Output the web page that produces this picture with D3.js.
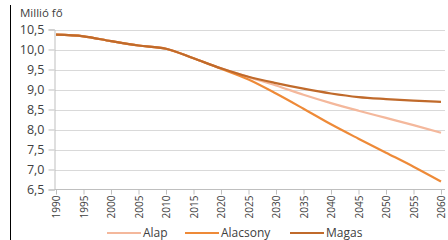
<!DOCTYPE html>
<html>
<head>
<meta charset="utf-8">
<script src="https://cdn.jsdelivr.net/npm/d3@7"></script>
<style>
  body { margin: 0; background: #fff; }
  svg text { font-family: "Open Sans", "Noto Sans", sans-serif; fill: #404040; }
</style>
</head>
<body>
<svg id="chart" width="448" height="240"></svg>
<script>
var years = [1990, 1995, 2000, 2005, 2010, 2015, 2020, 2025, 2030, 2035, 2040, 2045, 2050, 2055, 2060];
var alap      = [10.37, 10.33, 10.21, 10.10, 10.02, 9.78, 9.53, 9.31, 9.10, 8.87, 8.66, 8.47, 8.29, 8.11, 7.92];
var alacsony  = [10.37, 10.33, 10.21, 10.10, 10.02, 9.78, 9.52, 9.25, 8.90, 8.52, 8.13, 7.77, 7.42, 7.07, 6.70];
var magas     = [10.37, 10.33, 10.21, 10.10, 10.02, 9.78, 9.53, 9.32, 9.16, 9.02, 8.90, 8.81, 8.76, 8.72, 8.69];
var seriesNames = ["Alap", "Alacsony", "Magas"];
var yTicks = [6.5, 7.0, 7.5, 8.0, 8.5, 9.0, 9.5, 10.0, 10.5];

var colors = { "Alap": "#f4b89c", "Alacsony": "#ee8a38", "Magas": "#c06a2b" };
var series = [
  { name: "Alap", values: alap },
  { name: "Alacsony", values: alacsony },
  { name: "Magas", values: magas }
];

var svg = d3.select("#chart");

// keret bal oldalon
svg.append("line").attr("x1", 10.5).attr("x2", 10.5).attr("y1", 5).attr("y2", 240)
  .attr("stroke", "#000").attr("stroke-width", 1);

var x = d3.scaleLinear().domain([1990, 2060]).range([56, 441]);
var y = d3.scaleLinear().domain([6.5, 10.5]).range([189.5, 29.5]);

// rácsvonalak
svg.append("g").selectAll("line").data(yTicks.slice(1)).enter().append("line")
  .attr("x1", 55).attr("x2", 445)
  .attr("y1", function(d){ return Math.round(y(d)) + 0.5; })
  .attr("y2", function(d){ return Math.round(y(d)) + 0.5; })
  .attr("stroke", "#d9d9d9").attr("stroke-width", 1);

// y tengely
var yAxis = d3.axisLeft(y).tickValues(yTicks).tickSize(6).tickPadding(4)
  .tickFormat(function(d){ return d3.format(".1f")(d).replace(".", ","); });
var gy = svg.append("g").attr("transform", "translate(54.5,0)").call(yAxis);
gy.select(".domain").attr("stroke", "#bfbfbf");
gy.selectAll(".tick line").attr("stroke", "#bfbfbf");
gy.selectAll(".tick text").style("font-size", "12.5px").attr("fill", "#404040");

// x tengely
var xAxis = d3.axisBottom(x).tickValues(years).tickSize(5).tickPadding(3).tickFormat(d3.format("d"));
var gx = svg.append("g").attr("transform", "translate(0,189.5)").call(xAxis);
gx.select(".domain").attr("stroke", "#bfbfbf").attr("d", "M54.5,0H445");
gx.selectAll(".tick line").attr("stroke", "#bfbfbf");
gx.selectAll(".tick text")
  .style("font-size", "10px")
  .attr("text-anchor", "end")
  .attr("transform", "rotate(-90)")
  .attr("x", -6).attr("y", 0).attr("dy", "0.35em")
  .attr("fill", "#404040");

// vonalak
var line = d3.line()
  .x(function(d, i){ return x(years[i]); })
  .y(function(d){ return y(d); })
  .curve(d3.curveMonotoneX);

svg.append("g").selectAll("path").data(series).enter().append("path")
  .attr("d", function(d){ return line(d.values); })
  .attr("fill", "none")
  .attr("stroke", function(d){ return colors[d.name]; })
  .attr("stroke-width", 2.2)
  .attr("stroke-linejoin", "round");

// cím
svg.append("text").attr("x", 20).attr("y", 17).style("font-size", "11.5px").text("Millió fő");

// jelmagyarázat
var legendX = [107, 185, 290];
var lg = svg.append("g").selectAll("g").data(seriesNames).enter().append("g")
  .attr("transform", function(d, i){ return "translate(" + legendX[i] + ",233)"; });
lg.append("line").attr("x1", 0).attr("x2", 34).attr("y1", 0).attr("y2", 0)
  .attr("stroke", function(d){ return colors[d]; }).attr("stroke-width", 2.2);
lg.append("text").attr("x", 36).attr("y", 0).attr("dy", "0.35em")
  .style("font-size", "12px").text(function(d){ return d; });
</script>
</body>
</html>
